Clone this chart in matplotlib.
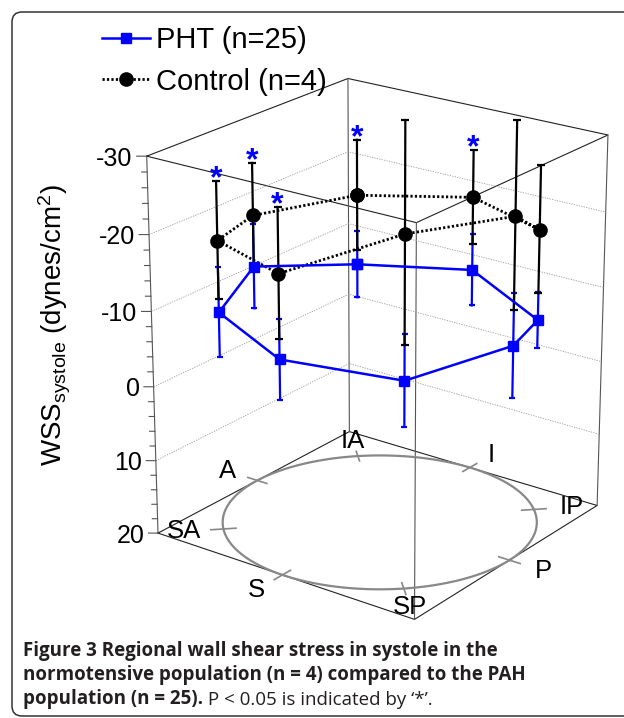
import numpy as np
import matplotlib
matplotlib.use("Agg")
import matplotlib.pyplot as plt
from matplotlib.lines import Line2D
from matplotlib.patches import FancyBboxPatch
from matplotlib.text import Annotation
from mpl_toolkits.mplot3d import proj3d

plt.rcParams['font.family'] = ['Liberation Sans', 'DejaVu Sans']
plt.rcParams['mathtext.fontset'] = 'custom'
plt.rcParams['mathtext.rm'] = 'Liberation Sans'
plt.rcParams['mathtext.it'] = 'Liberation Sans:italic'

# regional WSS in systole
regions = ['IA', 'I', 'IP', 'P', 'SP', 'S', 'SA', 'A']
pht = [-7.3, -7.9, -6.1, -8.6, -7.3, -8.5, -9.4, -9.9]
pht_err = [4.6, 4.9, 3.7, 6.8, 5.9, 5.2, 5.9, 5.7]
control = [-16.8, -17.8, -18.1, -25.1, -25.7, -19.4, -18.8, -16.8]
control_err = [7.5, 6.3, 8.4, 11.9, 13.8, 8.3, 7.6, 7.0]
significant = ['IA', 'I', 'S', 'SA', 'A']

z_ticks = [-30, -20, -10, 0, 10, 20]
z_ticklabels = ['-30', '-20', '-10', '0', '10', '20']

BLUE = '#0000ff'
FLOOR = 20
TOP = -30

# regions sit on a unit circle on the floor, IA towards the back corner
ang = np.deg2rad(135 - 45 * np.arange(len(regions)))
xs, ys = np.cos(ang), np.sin(ang)


def ring(a):
    a = list(a)
    return a + a[:1]


fig = plt.figure(figsize=(6.24, 7.18), dpi=100)
ax = fig.add_axes([0.1237, 0.1094, 0.9442, 0.8206], projection='3d',
                  computed_zorder=False)
ax.set_proj_type('persp', focal_length=0.95)
ax.view_init(elev=21.7, azim=-53.4)
ax.set_box_aspect((1, 1, 1.25))
ax.set_xlim(-1, 1)
ax.set_ylim(-1, 1)
ax.set_zlim(FLOOR, TOP)
ax.set_axis_off()
ax.patch.set_visible(False)

M = ax.get_proj()


def label3d(x, y, z, s, **kw):
    # project once and place as ordinary 2D text in the 3D axes
    px, py, _ = proj3d.proj_transform(x, y, z, M)
    return ax.text2D(float(px), float(py), s, **kw)


# box outline
corners = [(-1, -1), (-1, 1), (1, 1), (1, -1)]
cx = [c[0] for c in corners]
cy = [c[1] for c in corners]
for z in (FLOOR, TOP):
    ax.plot(ring(cx), ring(cy), [z] * 5, color='#222222', lw=0.8, zorder=1)
for x, y in corners:
    ax.plot([x, x], [y, y], [FLOOR, TOP], color='#555555', lw=0.8, zorder=1)

# dotted grid on the two back walls
for g in z_ticks[1:-1]:
    ax.plot([-1, -1, 1], [-1, 1, 1], [g] * 3, color='#999999', lw=0.6,
            ls=(0, (1.5, 1.5)), zorder=1)

# ticks on the left edge
dx, dy = -0.803, -0.596
for z in np.arange(TOP, FLOOR + 1, 2):
    L = 0.06 if z % 10 == 0 else 0.033
    ax.plot([-1, -1 + L * dx], [-1, -1 + L * dy], [z, z], color='#555555',
            lw=0.8, zorder=1)
for z, lab in zip(z_ticks, z_ticklabels):
    label3d(-1 + 0.085 * dx, -1 + 0.085 * dy, z, lab, ha='right',
            va='center_baseline', fontsize=18)

# floor circle with region ticks and labels
t = np.linspace(0, 2 * np.pi, 240)
ax.plot(np.cos(t), np.sin(t), np.full_like(t, FLOOR), color='#888888',
        lw=1.6, zorder=1)
for x, y, name in zip(xs, ys, regions):
    ax.plot([0.92 * x, 1.08 * x], [0.92 * y, 1.08 * y], [FLOOR, FLOOR],
            color='#888888', lw=1.2, zorder=1)
    label3d(1.25 * x, 1.25 * y, FLOOR, name, ha='center', va='center',
            fontsize=18.5)

# error bars
for x, y, v, e in zip(xs, ys, pht, pht_err):
    ax.plot([x, x], [y, y], [v - e, v + e], color=BLUE, lw=1.6, zorder=2)
    ax.plot([x, x], [y, y], [v - e, v + e], ls='none', marker='_', ms=4,
            mew=1.6, color=BLUE, zorder=2)
for x, y, v, e in zip(xs, ys, control, control_err):
    ax.plot([x, x], [y, y], [v - e, v + e], color='black', lw=1.6, zorder=3)
    ax.plot([x, x], [y, y], [v - e, v + e], ls='none', marker='_', ms=6,
            mew=1.6, color='black', zorder=3)

# the two rings
ax.plot(ring(xs), ring(ys), ring(control), color='black', lw=2,
        ls=(0, (0.8, 0.8)), marker='o', ms=9.5, zorder=4)
ax.plot(ring(xs), ring(ys), ring(pht), color=BLUE, lw=1.8, marker='s',
        ms=7.5, zorder=5)

# significance stars above the control bars
for x, y, v, e, name in zip(xs, ys, control, control_err, regions):
    if name in significant:
        label3d(x, y, v - e + 0.8, '*', color=BLUE, ha='center',
                va='baseline', fontsize=23, fontweight='bold', zorder=6)

fig.text(0.088, 0.547, r'WSS$_{\mathrm{systole}}$ (dynes/cm$^{\mathrm{2}}$)',
         rotation=90, ha='center', va='center', fontsize=20)

handles = [Line2D([], [], color=BLUE, lw=1.8, marker='s', ms=7.5),
           Line2D([], [], color='black', lw=2, ls=(0, (0.8, 0.8)),
                  marker='o', ms=9.5)]
fig.legend(handles, ['PHT (n=25)', 'Control (n=4)'], loc='upper left',
           bbox_to_anchor=(0.1635, 0.964), frameon=False, fontsize=21,
           handlelength=1.65, handletextpad=0.2, labelspacing=0.47,
           borderpad=0, borderaxespad=0)

# rounded frame around the figure panel
frame = FancyBboxPatch((0.12, 0.02), 6.4, 7.04,
                       boxstyle='round,pad=0,rounding_size=0.1',
                       transform=fig.dpi_scale_trans, fill=False,
                       ec='#333333', lw=1.1)
fig.add_artist(frame)

# caption
cap_kw = dict(fontsize=13.5, color='#231f20', family=['Open Sans', 'DejaVu Sans'])
fig.text(0.037, 1 - 656 / 718, 'Figure 3 Regional wall shear stress in systole in the',
         fontweight='bold', va='baseline', **cap_kw)
fig.text(0.037, 1 - 680 / 718, 'normotensive population (n = 4) compared to the PAH',
         fontweight='bold', va='baseline', **cap_kw)
last = fig.text(0.037, 1 - 704 / 718, 'population (n = 25).', fontweight='bold',
                va='baseline', **cap_kw)
fig.add_artist(Annotation(' P < 0.05 is indicated by \u2018*\u2019.', xy=(1, 0),
                          xycoords=last, va='bottom', ha='left', **cap_kw))

fig.savefig('out.png', dpi=100)
